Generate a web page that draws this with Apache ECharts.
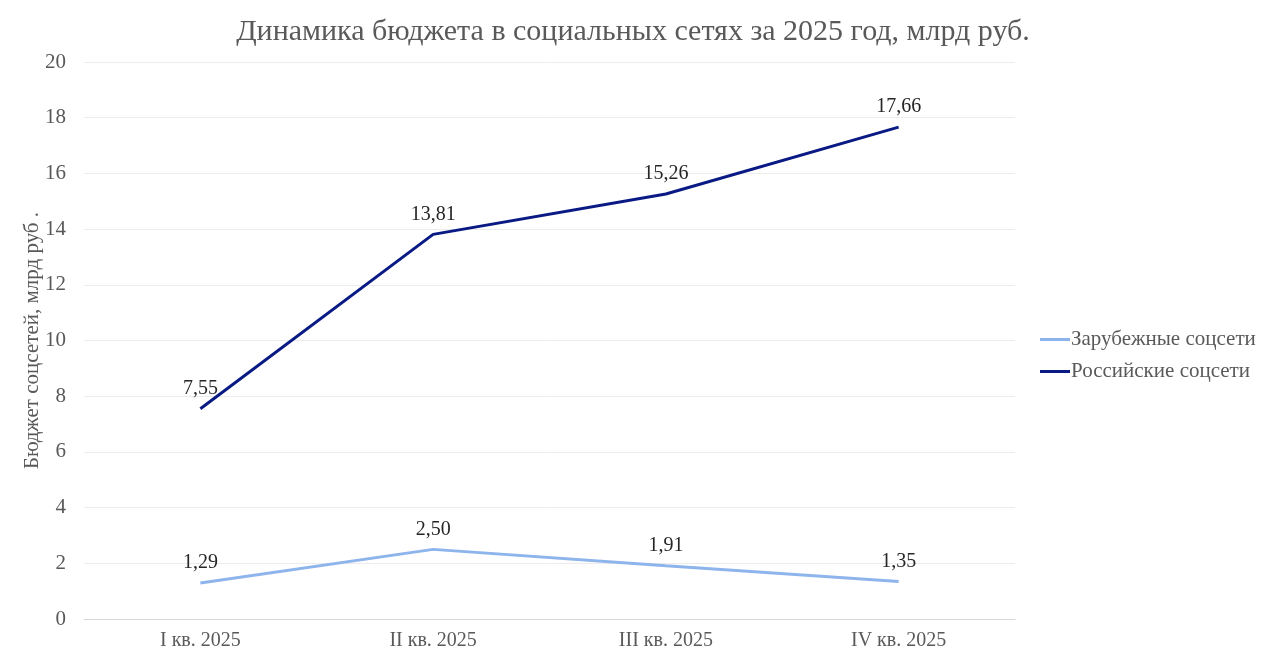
<!DOCTYPE html>
<html>
<head>
<meta charset="utf-8">
<script src="https://cdn.jsdelivr.net/npm/echarts@6/dist/echarts.min.js"></script>
<style>
html, body { margin: 0; padding: 0; background: #fff; }
#chart { width: 1266px; height: 664px; }
</style>
</head>
<body>
<div id="chart"></div>
<script>
var quarters = ['I кв. 2025', 'II кв. 2025', 'III кв. 2025', 'IV кв. 2025'];
var foreignNets = [1.29, 2.50, 1.91, 1.35];
var russianNets = [7.55, 13.81, 15.26, 17.66];
var seriesNames = ['Зарубежные соцсети', 'Российские соцсети'];

var serif = '"Liberation Serif", "Times New Roman", serif';

function commaLabel(p) {
    return p.value.toFixed(2).replace('.', ',');
}

var chart = echarts.init(document.getElementById('chart'));
var option = {
    textStyle: { fontFamily: serif },
    title: {
        text: 'Динамика бюджета в социальных сетях за 2025 год, млрд руб.',
        left: 'center',
        top: 12,
        textStyle: { fontFamily: serif, fontSize: 30, fontWeight: 'normal', color: '#595959' }
    },
    legend: {
        orient: 'vertical',
        left: 1035,
        top: 324,
        itemGap: 11,
        itemWidth: 30,
        itemHeight: 3,
        icon: 'rect',
        textStyle: { fontFamily: serif, fontSize: 21, color: '#595959', padding: [0, 0, 0, -4] },
        data: seriesNames
    },
    grid: { left: 84, right: 251, top: 62, bottom: 45 },
    xAxis: {
        type: 'category',
        data: quarters,
        axisLine: { lineStyle: { color: '#d9d9d9' } },
        axisTick: { show: false },
        axisLabel: { fontFamily: serif, fontSize: 20, color: '#595959', margin: 12 }
    },
    yAxis: {
        type: 'value',
        min: 0,
        max: 20,
        interval: 2,
        name: 'Бюджет соцсетей, млрд руб .',
        nameLocation: 'middle',
        nameGap: 41,
        nameMoveOverlap: false,
        nameTextStyle: { fontFamily: serif, fontSize: 21, color: '#595959' },
        axisLine: { show: false },
        axisTick: { show: false },
        axisLabel: { fontFamily: serif, fontSize: 21, color: '#595959', margin: 18 },
        splitLine: { lineStyle: { color: '#ececec' } }
    },
    series: [
        {
            name: seriesNames[0],
            type: 'line',
            data: foreignNets,
            symbol: 'circle',
            symbolSize: 0,
            lineStyle: { color: '#8eb4ec', width: 3 },
            itemStyle: { color: '#8eb4ec' },
            label: {
                show: true, position: 'top', distance: 10,
                formatter: commaLabel,
                fontFamily: serif, fontSize: 20, color: '#262626'
            }
        },
        {
            name: seriesNames[1],
            type: 'line',
            data: russianNets,
            symbol: 'circle',
            symbolSize: 0,
            lineStyle: { color: '#0a1a84', width: 3 },
            itemStyle: { color: '#0a1a84' },
            label: {
                show: true, position: 'top', distance: 10,
                formatter: commaLabel,
                fontFamily: serif, fontSize: 20, color: '#262626'
            }
        }
    ]
};
chart.setOption(option);
</script>
</body>
</html>
